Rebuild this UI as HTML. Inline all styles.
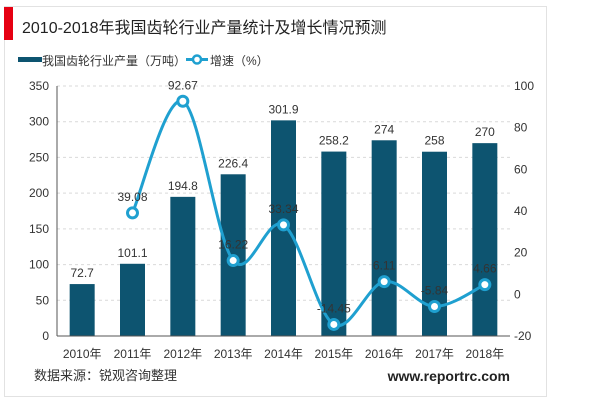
<!DOCTYPE html>
<html><head><meta charset="utf-8"><style>
body{margin:0;background:#fff;font-family:"Liberation Sans","Noto Sans CJK SC",sans-serif}
svg text{font-family:"Liberation Sans","Noto Sans CJK SC",sans-serif}
</style></head><body>
<svg width="600" height="401" viewBox="0 0 600 401">
<rect x="4.5" y="6.5" width="542" height="390" fill="#fff" stroke="#e2e2e2"/>
<rect x="4" y="7" width="9" height="33" fill="#e60012"/>
<text x="22" y="33" font-size="16" fill="#222">2010-2018年我国齿轮行业产量统计及增长情况预测</text>
<g>
<rect x="18" y="57" width="24" height="5" fill="#0d5470"/>
<text x="42" y="65" font-size="12" fill="#333">我国齿轮行业产量（万吨）</text>
<line x1="186" y1="59.5" x2="208" y2="59.5" stroke="#1fa0d0" stroke-width="3"/>
<circle cx="197" cy="59.5" r="4" fill="#fff" stroke="#1fa0d0" stroke-width="2.5"/>
<text x="210" y="65" font-size="12" fill="#333">增速（%）</text>
</g>
<g id="plot"></g>
<text x="34" y="380" font-size="13" fill="#333">数据来源：锐观咨询整理</text>
<text x="510" y="381" font-size="14" font-weight="bold" fill="#222" text-anchor="end">www.reportrc.com</text>
</svg>
<script>
const categories=["2010年","2011年","2012年","2013年","2014年","2015年","2016年","2017年","2018年"];
const output=[72.7,101.1,194.8,226.4,301.9,258.2,274,258,270];
const growth=[null,39.08,92.67,16.22,33.34,-14.45,6.11,-5.84,4.66];
const leftTicks=[0,50,100,150,200,250,300,350];
const rightTicks=[-20,0,20,40,60,80,100];
const NS="http://www.w3.org/2000/svg";
const g=document.getElementById('plot');
const x0=57,x1=510,yB=336,yT=86;
const bw=(x1-x0)/categories.length;
const xc=i=>x0+bw*(i+0.5);
const yL=v=>yB-(v-0)/(350-0)*(yB-yT);
const yR=v=>yB-(v+20)/(100+20)*(yB-yT);
function mk(t,a,txt){const e=document.createElementNS(NS,t);for(const k in a)e.setAttribute(k,a[k]);if(txt!==undefined)e.textContent=txt;g.appendChild(e);return e;}
leftTicks.forEach(v=>{
 if(v>0){const l=mk('line',{x1:x0,x2:x1,y1:yL(v),y2:yL(v),stroke:'#d9d9d9','stroke-dasharray':'3,3'});
 
 }
 const t=mk('text',{x:x0-8,y:yL(v)+4,'font-size':12,fill:'#333','text-anchor':'end'},v);
 
 
});
rightTicks.forEach(v=>{
 const t=mk('text',{x:x1+4,y:yR(v)+4,'font-size':12,fill:'#333','text-anchor':'start'},v);
 
 
});
output.forEach((v,i)=>{
 const r=mk('rect',{x:xc(i)-12.5,y:yL(v),width:25,height:yB-yL(v),fill:'#0d5470'});
 
 
 const t=mk('text',{x:xc(i),y:yL(v)-7,'font-size':12,fill:'#333','text-anchor':'middle'},v);
 
 
 const c=mk('text',{x:xc(i),y:yB+22,'font-size':12,fill:'#333','text-anchor':'middle'},categories[i]);
 
 
});
const ax=mk('line',{x1:x0,x2:x0,y1:yT,y2:yB,stroke:'#555'});


const bx=mk('line',{x1:x0,x2:x1,y1:yB,y2:yB,stroke:'#555'});


const pts=[];growth.forEach((v,i)=>{if(v!==null)pts.push([xc(i),yR(v)]);});
let d='M'+pts[0][0]+','+pts[0][1];
for(let k=1;k<pts.length;k++){const p0=pts[k-2]||pts[k-1],p1=pts[k-1],p2=pts[k],p3=pts[k+1]||p2;
 const c1=[p1[0]+(p2[0]-p0[0])/6,p1[1]+(p2[1]-p0[1])/6],c2=[p2[0]-(p3[0]-p1[0])/6,p2[1]-(p3[1]-p1[1])/6];
 d+=' C'+c1+' '+c2+' '+p2;}
const ln=mk('path',{d:d,fill:'none',stroke:'#1fa0d0','stroke-width':3});


growth.forEach((v,i)=>{if(v===null)return;
 const c=mk('circle',{cx:xc(i),cy:yR(v),r:5,fill:'#fff',stroke:'#1fa0d0','stroke-width':3});
 
 
 const t=mk('text',{x:xc(i),y:yR(v)-12,'font-size':12,fill:'#333','text-anchor':'middle'},v);
 
 
});
</script>
</body></html>
